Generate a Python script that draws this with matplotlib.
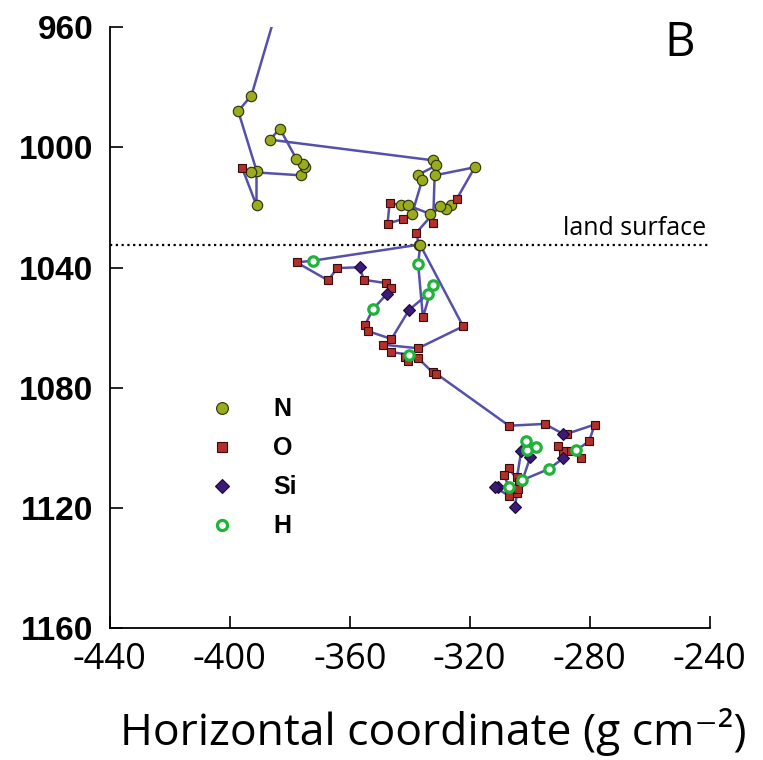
import matplotlib
matplotlib.use("Agg")
import matplotlib.pyplot as plt
from matplotlib.lines import Line2D
import numpy as np

# trajectory, in path order (horizontal g cm-2, vertical g cm-2, species)
traj_x = [-386.1, -392.8, -397.2, -391.1, -391.1, -395.9, -393.0, -376.1, -375.0, -375.6,
          -377.8, -383.3, -386.7, -332.2, -331.1, -337.2, -335.9, -339.2, -342.2, -347.4,
          -346.7, -342.8, -340.6, -333.3, -332.2, -331.7, -318.3, -324.4, -326.1, -327.8,
          -330.0, -337.8, -337.0, -372.2, -377.7, -367.2, -364.2, -356.7, -355.3, -347.8,
          -346.4, -347.6, -352.2, -355.0, -353.9, -346.1, -340.2, -333.9, -332.4, -335.6,
          -337.2, -336.5, -322.2, -337.2, -348.9, -346.1, -340.2, -341.7, -340.6, -337.2,
          -332.4, -331.1, -306.9, -295.0, -288.9, -287.6, -278.3, -280.2, -284.4, -282.8,
          -286.7, -288.9, -290.6, -288.9, -293.6, -302.4, -299.8, -300.9, -301.1, -298.0,
          -302.8, -304.2, -303.6, -306.9, -308.7, -306.9, -310.6, -311.7, -306.9, -304.2,
          -303.9, -305.0]
traj_y = [960.0, 982.7, 987.9, 1007.7, 1019.3, 1006.8, 1008.2, 1009.3, 1006.6, 1005.4,
          1003.8, 993.8, 997.4, 1004.3, 1006.0, 1009.1, 1011.0, 1022.1, 1023.8, 1025.4,
          1018.4, 1019.3, 1019.3, 1022.1, 1025.1, 1009.3, 1006.6, 1017.3, 1019.3, 1020.4,
          1019.6, 1028.4, 1032.4, 1037.7, 1038.3, 1044.3, 1040.2, 1039.9, 1044.1, 1045.2,
          1046.8, 1048.8, 1053.8, 1059.3, 1061.2, 1063.8, 1054.1, 1048.8, 1045.7, 1056.6,
          1038.8, 1032.5, 1059.6, 1066.9, 1065.7, 1068.2, 1069.0, 1069.9, 1071.0, 1070.2,
          1074.9, 1075.4, 1092.7, 1092.1, 1095.4, 1095.4, 1092.3, 1097.9, 1100.8, 1103.4,
          1101.0, 1101.2, 1099.3, 1103.6, 1107.1, 1110.8, 1103.2, 1100.8, 1097.9, 1099.7,
          1101.0, 1109.7, 1111.6, 1106.8, 1109.0, 1113.0, 1113.0, 1113.2, 1116.0, 1115.2,
          1113.8, 1119.7]
traj_sp = ["-", "N", "N", "N", "N", "O", "N", "N", "N", "N",
           "N", "N", "N", "N", "N", "N", "N", "N", "O", "O",
           "O", "N", "N", "N", "O", "N", "N", "O", "N", "N",
           "N", "O", "N", "H", "O", "O", "O", "Si", "O", "O",
           "O", "Si", "H", "O", "O", "O", "Si", "H", "H", "O",
           "H", "N", "O", "O", "O", "O", "H", "O", "O", "O",
           "O", "O", "O", "O", "Si", "O", "O", "O", "H", "O",
           "O", "O", "O", "Si", "H", "H", "Si", "H", "H", "H",
           "Si", "O", "O", "O", "O", "H", "Si", "Si", "O", "O",
           "O", "Si"]

species = ["N", "O", "Si", "H"]
land_surface = 1032.5

x = np.array(traj_x)
y = np.array(traj_y)
sp = np.array(traj_sp)

styles = {
    "N": dict(marker="o", ms=7.5, mfc="#9aab1e", mec="#2a3000", mew=0.8),
    "O": dict(marker="s", ms=6.3, mfc="#b2302c", mec="#3a0a08", mew=0.8),
    "Si": dict(marker="D", ms=5.8, mfc="#3b1a78", mec="#1a0838", mew=0.8),
    "H": dict(marker="o", ms=6.8, mfc="white", mec="#1fb33a", mew=2.3),
}
legend_ms = {"N": 8.5, "O": 6.8, "Si": 7.5, "H": 7.3}

fig = plt.figure(figsize=(7.63, 7.6), dpi=100)
ax = fig.add_axes([0.144, 0.174, 0.786, 0.790])

ax.plot(x, y, color="#5550aa", lw=1.8, zorder=2)
for s in species:
    m = sp == s
    ax.plot(x[m], y[m], ls="none", zorder=3, **styles[s])

ax.axhline(land_surface, color="black", ls=(0, (1, 1.6)), lw=1.6, zorder=1)
ax.text(-265, land_surface - 1.3, "land surface", ha="center", va="bottom",
        fontsize=18, family="Open Sans")
ax.text(0.95, 1.013, "B", transform=ax.transAxes, ha="center", va="top",
        fontsize=34, family="Open Sans")

ax.set_xlim(-440, -240)
ax.set_ylim(1160, 960)
ax.set_xticks(np.arange(-440, -239, 40))
ax.set_yticks(np.arange(960, 1161, 40))
ax.set_xticklabels([f"{v}" for v in range(-440, -239, 40)], family="Open Sans",
                   fontsize=26)
ax.set_yticklabels([f"{v}" for v in range(960, 1161, 40)], family="Liberation Sans",
                   fontweight="bold", fontsize=24)
ax.tick_params(direction="in", length=9, width=1.2)
ax.tick_params(axis="x", pad=10)
ax.tick_params(axis="y", pad=12)
for side in ["top", "right"]:
    ax.spines[side].set_visible(False)
for side in ["left", "bottom"]:
    ax.spines[side].set_linewidth(1.3)

ax.set_xlabel("Horizontal coordinate (g cm\u207b\u00b2)", family=["Open Sans", "DejaVu Sans"],
              fontsize=32)
ax.xaxis.set_label_coords(0.54, -0.134)

handles = [Line2D([], [], ls="none", **dict(styles[s], ms=legend_ms[s])) for s in species]
ax.legend(handles, species, loc="upper left", bbox_to_anchor=(0.108, 0.421),
          frameon=False, labelspacing=0.6, handletextpad=1.05,
          prop=dict(family="Liberation Sans", weight="bold", size=18))

fig.savefig("out.png", dpi=100)
